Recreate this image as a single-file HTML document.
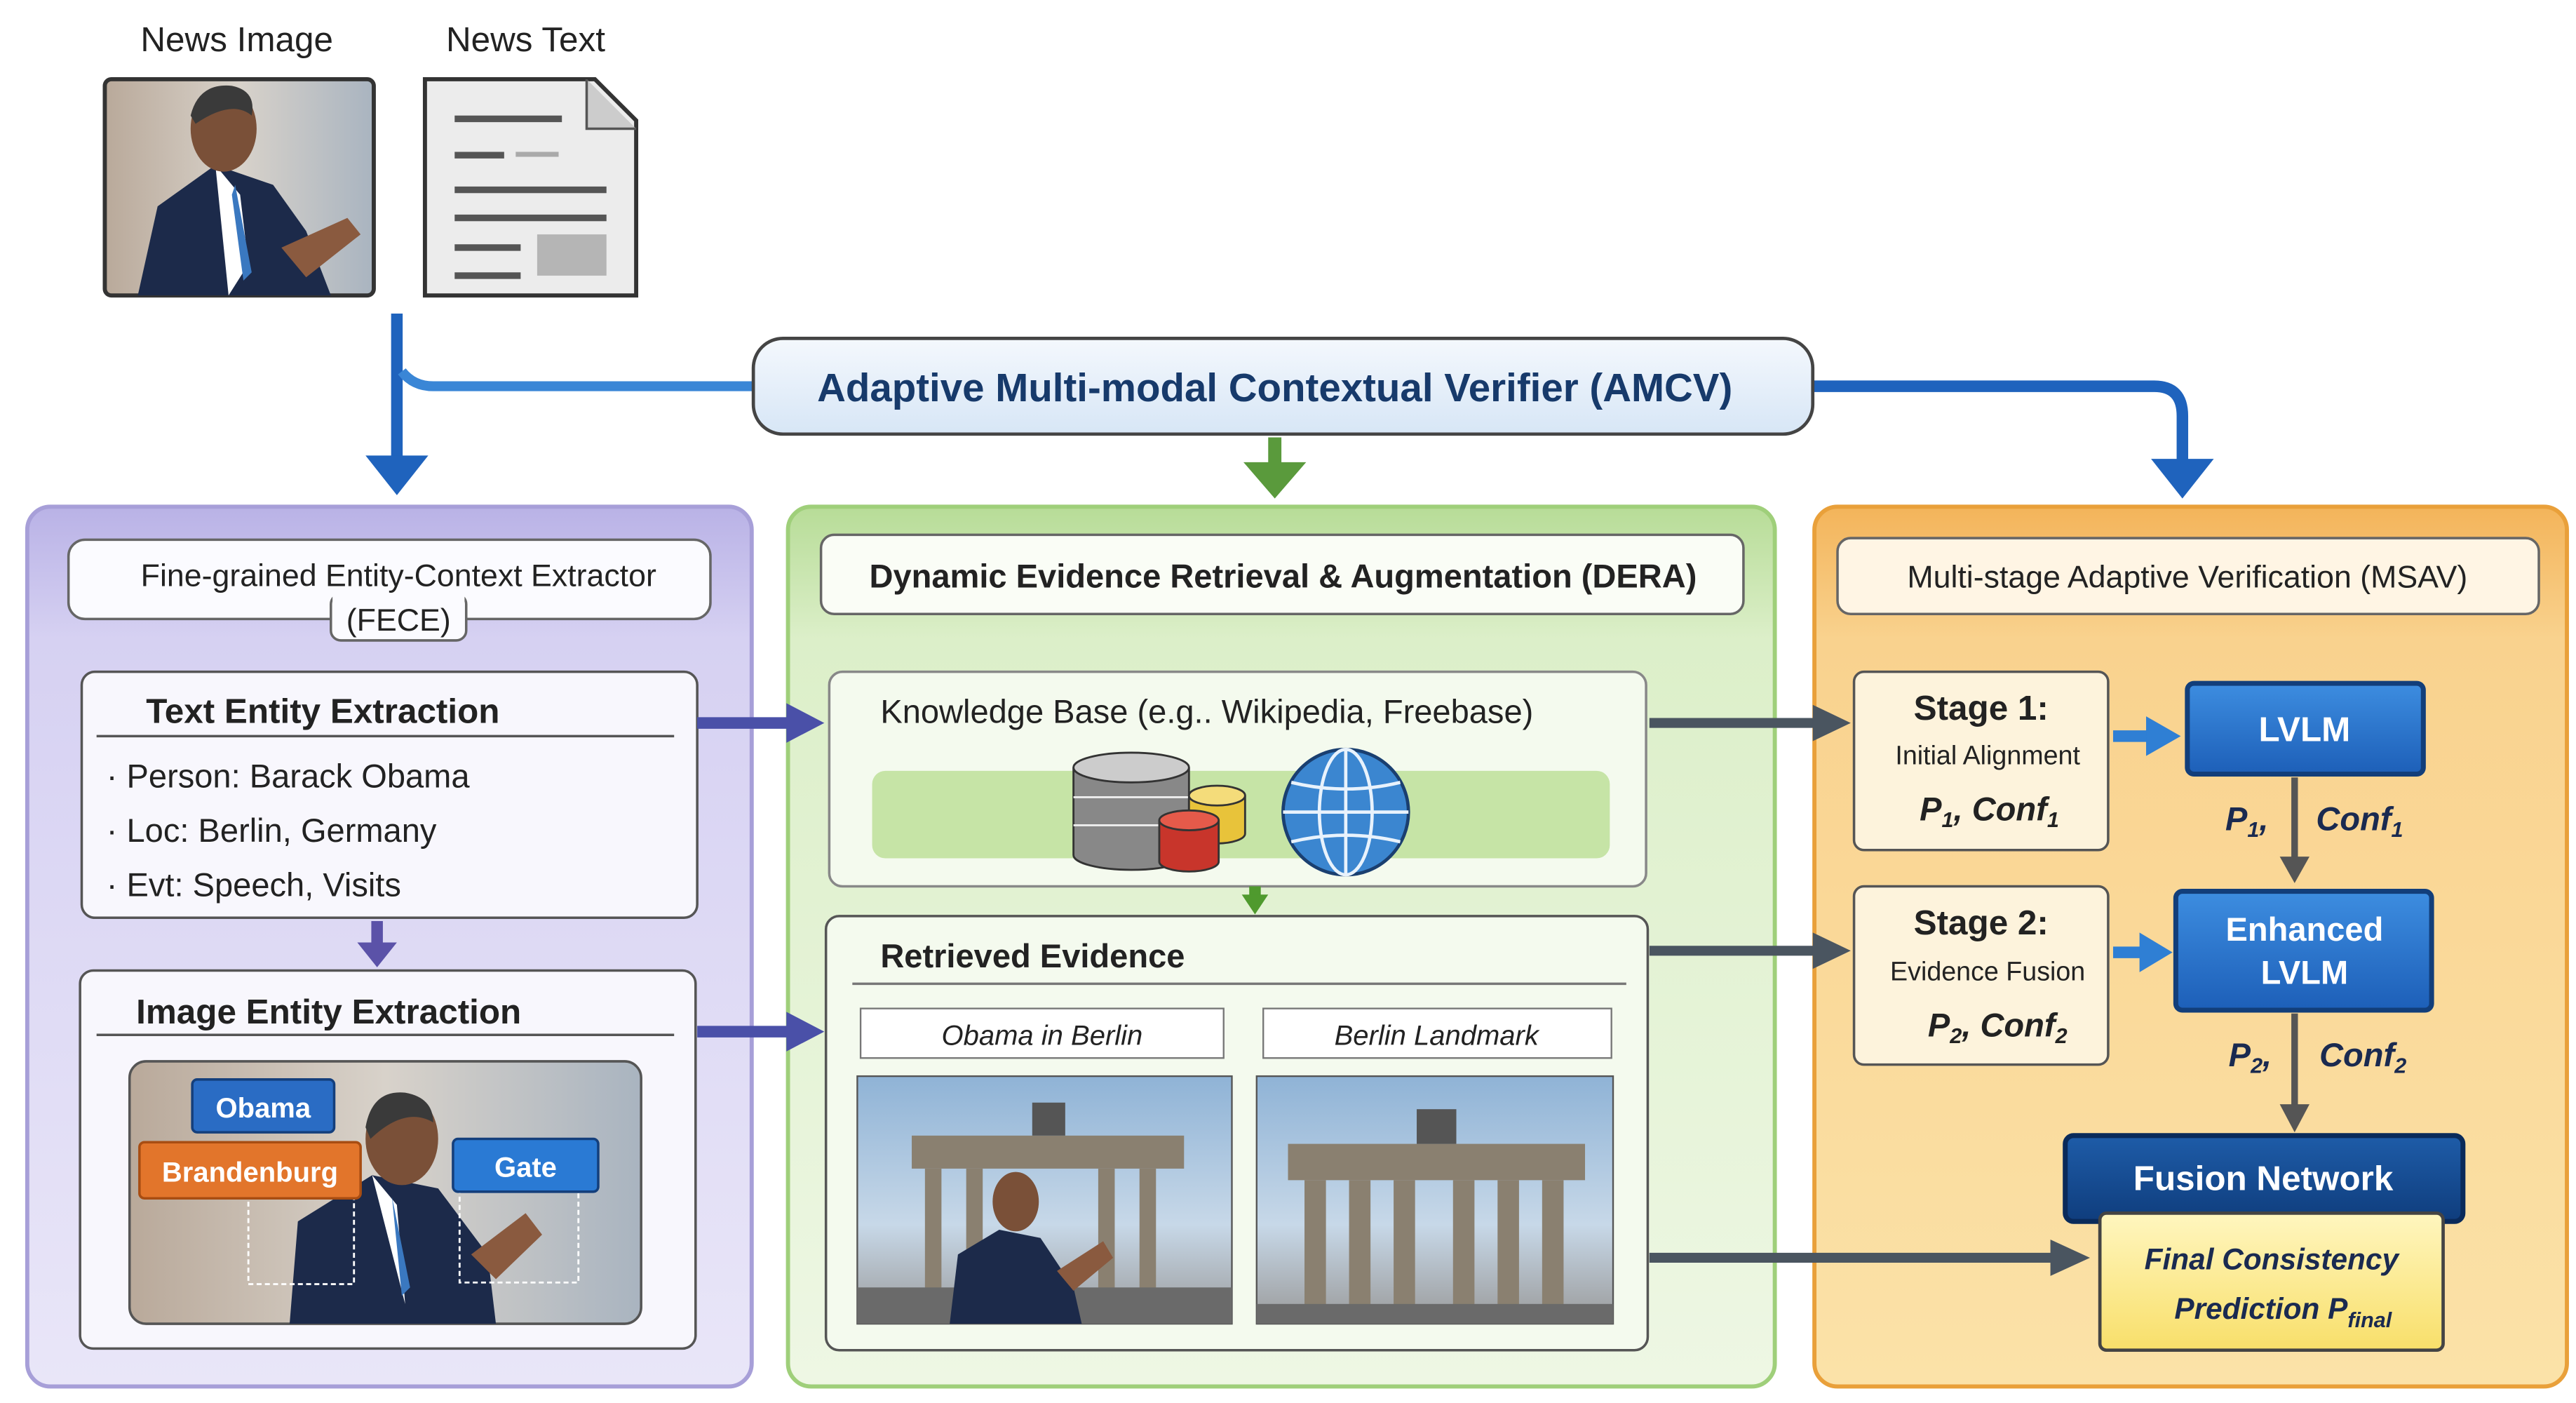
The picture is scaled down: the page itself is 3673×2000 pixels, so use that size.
<!DOCTYPE html>
<html><head><meta charset="utf-8"><style>
html,body{margin:0;padding:0;background:#fff;}
svg{display:block;}
text{font-family:"Liberation Sans","DejaVu Sans",sans-serif;}
</style></head><body>
<svg width="3673" height="2000" viewBox="0 0 1560 850" xmlns="http://www.w3.org/2000/svg">
<defs>
<linearGradient id="pur" x1="0" y1="0" x2="0" y2="1"><stop offset="0" stop-color="#b9b2e6"/><stop offset="0.15" stop-color="#d6d1f2"/><stop offset="1" stop-color="#e9e6f8"/></linearGradient>
<linearGradient id="grn" x1="0" y1="0" x2="0" y2="1"><stop offset="0" stop-color="#b7dc97"/><stop offset="0.15" stop-color="#dcefc9"/><stop offset="1" stop-color="#eef7e4"/></linearGradient>
<linearGradient id="org" x1="0" y1="0" x2="0" y2="1"><stop offset="0" stop-color="#f3b45a"/><stop offset="0.15" stop-color="#f9d28e"/><stop offset="1" stop-color="#fbe2a8"/></linearGradient>
<linearGradient id="amcv" x1="0" y1="0" x2="0" y2="1"><stop offset="0" stop-color="#f4f8fd"/><stop offset="1" stop-color="#d7e6f6"/></linearGradient>
<linearGradient id="blu" x1="0" y1="0" x2="0" y2="1"><stop offset="0" stop-color="#3d8de0"/><stop offset="1" stop-color="#1d5fb8"/></linearGradient>
<linearGradient id="dblu" x1="0" y1="0" x2="0" y2="1"><stop offset="0" stop-color="#1e5ca8"/><stop offset="1" stop-color="#0f3d7d"/></linearGradient>
<linearGradient id="yel" x1="0" y1="0" x2="0" y2="1"><stop offset="0" stop-color="#fff6bf"/><stop offset="1" stop-color="#f8df6a"/></linearGradient>
<linearGradient id="sky" x1="0" y1="0" x2="0" y2="1"><stop offset="0" stop-color="#8fb3d6"/><stop offset="0.6" stop-color="#c7d8e8"/><stop offset="1" stop-color="#9a9a9a"/></linearGradient>
<linearGradient id="crowd" x1="0" y1="0" x2="1" y2="0"><stop offset="0" stop-color="#b9a99a"/><stop offset="0.5" stop-color="#d8d2ca"/><stop offset="1" stop-color="#a9b4c0"/></linearGradient>
</defs>

<text x="143" y="31" font-size="21" text-anchor="middle" fill="#222">News Image</text>
<text x="318" y="31" font-size="21" text-anchor="middle" fill="#222">News Text</text>
<rect x="63" y="48" width="163" height="131" rx="4" fill="url(#crowd)" stroke="#333" stroke-width="2.5"/>
<path d="M83 179 L95 125 L130 100 L165 112 L185 140 L200 179 Z" fill="#1c2a4a"/>
<path d="M130 100 L145 118 L150 160 L138 179 Z" fill="#fff"/>
<path d="M142 112 L152 165 L147 170 L140 118 Z" fill="#3a78c0"/>
<ellipse cx="135" cy="78" rx="20" ry="26" fill="#7a5038"/>
<path d="M115 70 Q120 50 140 52 Q155 55 152 70 Q140 60 118 75Z" fill="#3a3a3a"/>
<path d="M170 150 L210 132 L218 142 L185 168 Z" fill="#8a5a3f"/>
<path d="M257 48 L360 48 L385 73 L385 179 L257 179 Z" fill="#ececec" stroke="#333" stroke-width="2.5"/>
<path d="M355 48 L355 78 L385 78" fill="#ccc" stroke="#555" stroke-width="1.5"/>
<g fill="#555"><rect x="275" y="70" width="65" height="4"/><rect x="275" y="92" width="30" height="4"/><rect x="312" y="92" width="26" height="3" fill="#aaa"/>
<rect x="275" y="113" width="92" height="4"/><rect x="275" y="130" width="92" height="4"/><rect x="275" y="148" width="40" height="4"/><rect x="275" y="165" width="40" height="4"/></g>
<rect x="325" y="142" width="42" height="25" fill="#b5b5b5"/>

<!-- AMCV connectors -->
<path d="M240 190 L240 280" stroke="#1f63bd" stroke-width="7" fill="none"/>
<path d="M221 276 L259 276 L240 300 Z" fill="#1f63bd"/>
<path d="M243 225 Q250 234 262 234 L458 234" stroke="#3a86d6" stroke-width="6" fill="none"/>
<path d="M1097 234 L1305 234 Q1322 234 1322 252 L1322 282" stroke="#1f63bd" stroke-width="7" fill="none"/>
<path d="M1303 278 L1341 278 L1322 302 Z" fill="#1f63bd"/>
<path d="M772 265 L772 285" stroke="#5a9a3c" stroke-width="8"/>
<path d="M753 280 L791 280 L772 302 Z" fill="#5a9a3c"/>

<rect x="456" y="205" width="642" height="58" rx="18" fill="url(#amcv)" stroke="#444" stroke-width="2"/>
<text x="772" y="243" font-size="24" font-weight="bold" text-anchor="middle" fill="#173a6b">Adaptive Multi-modal Contextual Verifier (AMCV)</text>

<!-- LEFT PANEL -->
<rect x="16" y="307" width="439" height="533" rx="14" fill="url(#pur)" stroke="#a79fd8" stroke-width="2.5"/>
<rect x="41" y="327" width="389" height="48" rx="10" fill="#fbfbff" stroke="#666" stroke-width="1.5"/>
<rect x="200" y="360" width="82" height="28" rx="6" fill="#fbfbff" stroke="#666" stroke-width="1.5"/>
<rect x="201" y="355" width="80" height="10" fill="#fbfbff"/>
<text x="241" y="355" font-size="19" text-anchor="middle" fill="#222">Fine-grained Entity-Context Extractor</text>
<text x="241" y="382" font-size="19" text-anchor="middle" fill="#222">(FECE)</text>

<rect x="49" y="407" width="373" height="149" rx="8" fill="#f8f7fd" stroke="#555" stroke-width="1.5"/>
<text x="88" y="438" font-size="21" font-weight="bold" fill="#222">Text Entity Extraction</text>
<line x1="58" y1="446" x2="408" y2="446" stroke="#555" stroke-width="1.5"/>
<text x="64" y="477" font-size="20" fill="#222">· Person: Barack Obama</text>
<text x="64" y="510" font-size="20" fill="#222">· Loc: Berlin, Germany</text>
<text x="64" y="543" font-size="20" fill="#222">· Evt: Speech, Visits</text>

<path d="M228 558 L228 574" stroke="#5b52a8" stroke-width="7"/>
<path d="M216 571 L240 571 L228 586 Z" fill="#5b52a8"/>

<rect x="48" y="588" width="373" height="229" rx="8" fill="#f8f7fd" stroke="#555" stroke-width="1.5"/>
<text x="82" y="620" font-size="21" font-weight="bold" fill="#222">Image Entity Extraction</text>
<line x1="58" y1="627" x2="408" y2="627" stroke="#555" stroke-width="1.5"/>
<rect x="78" y="643" width="310" height="159" rx="10" fill="url(#crowd)" stroke="#555" stroke-width="1.5"/>
<path d="M175 802 L180 740 L225 712 L265 720 L295 760 L300 802 Z" fill="#1c2a4a"/>
<path d="M225 712 L240 730 L245 790 Z" fill="#fff"/>
<path d="M237 725 L248 780 L243 785 Z" fill="#3a78c0"/>
<ellipse cx="243" cy="690" rx="22" ry="28" fill="#7a5038"/>
<path d="M221 683 Q225 660 245 662 Q262 665 262 680 Q245 670 224 690Z" fill="#3a3a3a"/>
<path d="M285 760 L318 735 L328 748 L300 775 Z" fill="#8a5a3f"/>
<rect x="150" y="718" width="64" height="60" fill="none" stroke="#fff" stroke-width="1.2" stroke-dasharray="3 2"/>
<rect x="278" y="715" width="72" height="62" fill="none" stroke="#fff" stroke-width="1.2" stroke-dasharray="3 2"/>
<rect x="116" y="654" width="86" height="32" rx="3" fill="#2a6cc4" stroke="#143f7c" stroke-width="1.5"/>
<text x="159" y="677" font-size="17" font-weight="bold" fill="#fff" text-anchor="middle">Obama</text>
<rect x="84" y="692" width="134" height="34" rx="3" fill="#e2752b" stroke="#a84d12" stroke-width="1.5"/>
<text x="151" y="716" font-size="17" font-weight="bold" fill="#fff" text-anchor="middle">Brandenburg</text>
<rect x="274" y="690" width="88" height="32" rx="3" fill="#2a7ad4" stroke="#143f7c" stroke-width="1.5"/>
<text x="318" y="713" font-size="17" font-weight="bold" fill="#fff" text-anchor="middle">Gate</text>

<!-- MIDDLE PANEL -->
<rect x="477" y="307" width="598" height="533" rx="14" fill="url(#grn)" stroke="#9fcf7a" stroke-width="2.5"/>
<rect x="497" y="324" width="559" height="48" rx="8" fill="#fafdf6" stroke="#666" stroke-width="1.5"/>
<text x="777" y="356" font-size="20" font-weight="bold" text-anchor="middle" fill="#222">Dynamic Evidence Retrieval &amp; Augmentation (DERA)</text>

<rect x="502" y="407" width="495" height="130" rx="8" fill="#f4faee" stroke="#888" stroke-width="1.5"/>
<text x="533" y="438" font-size="20" fill="#222">Knowledge Base (e.g.. Wikipedia, Freebase)</text>
<rect x="528" y="467" width="447" height="53" rx="8" fill="#c6e4a6"/>
<g stroke="#333" stroke-width="1.2">
<path d="M650 465 L650 518 A35 9 0 0 0 720 518 L720 465" fill="#888"/>
<ellipse cx="685" cy="465" rx="35" ry="9" fill="#ccc"/>
<line x1="650" y1="483" x2="720" y2="483" stroke="#eee"/>
<line x1="650" y1="500" x2="720" y2="500" stroke="#eee"/>
<path d="M720 482 L720 505 A17 6 0 0 0 754 505 L754 482" fill="#e8c33a"/>
<ellipse cx="737" cy="482" rx="17" ry="6" fill="#f4dc7a"/>
<path d="M702 497 L702 522 A18 6 0 0 0 738 522 L738 497" fill="#c8352b"/>
<ellipse cx="720" cy="497" rx="18" ry="6" fill="#e55a4a"/>
</g>
<circle cx="815" cy="492" r="38" fill="#3b86d0" stroke="#1a3f70" stroke-width="2"/>
<g fill="none" stroke="#e8f2fc" stroke-width="2"><ellipse cx="815" cy="492" rx="16" ry="38"/><line x1="777" y1="492" x2="853" y2="492"/><path d="M782 474 Q815 482 848 474"/><path d="M782 510 Q815 502 848 510"/><line x1="815" y1="454" x2="815" y2="530"/></g>

<path d="M760 537 L760 546" stroke="#4f9a2e" stroke-width="7"/>
<path d="M752 542 L768 542 L760 554 Z" fill="#4f9a2e"/>

<rect x="500" y="555" width="498" height="263" rx="8" fill="#f4faee" stroke="#555" stroke-width="1.5"/>
<text x="533" y="586" font-size="20" font-weight="bold" fill="#222">Retrieved Evidence</text>
<line x1="516" y1="596" x2="985" y2="596" stroke="#777" stroke-width="1.5"/>
<rect x="521" y="611" width="220" height="30" fill="#fff" stroke="#777"/>
<text x="631" y="633" font-size="17" font-style="italic" text-anchor="middle" fill="#222">Obama in Berlin</text>
<rect x="765" y="611" width="211" height="30" fill="#fff" stroke="#777"/>
<text x="870" y="633" font-size="17" font-style="italic" text-anchor="middle" fill="#222">Berlin Landmark</text>
<rect x="519" y="652" width="227" height="150" fill="url(#sky)" stroke="#555"/>
<g fill="#8a8070"><rect x="552" y="688" width="165" height="20"/><rect x="560" y="708" width="10" height="85"/><rect x="585" y="708" width="10" height="85"/><rect x="665" y="708" width="10" height="85"/><rect x="690" y="708" width="10" height="85"/><rect x="625" y="668" width="20" height="20" fill="#555"/></g>
<rect x="519" y="780" width="227" height="22" fill="#6a6a6a"/>
<path d="M575 802 L580 760 L605 745 L630 750 L650 780 L655 802Z" fill="#1c2a4a"/>
<ellipse cx="615" cy="728" rx="14" ry="18" fill="#7a5038"/>
<path d="M640 770 L668 752 L674 762 L650 782Z" fill="#8a5a3f"/>
<rect x="761" y="652" width="216" height="150" fill="url(#sky)" stroke="#555"/>
<g fill="#8a8070"><rect x="780" y="693" width="180" height="22"/><rect x="790" y="715" width="13" height="80"/><rect x="817" y="715" width="13" height="80"/><rect x="844" y="715" width="13" height="80"/><rect x="880" y="715" width="13" height="80"/><rect x="907" y="715" width="13" height="80"/><rect x="934" y="715" width="13" height="80"/><rect x="858" y="672" width="24" height="21" fill="#555"/></g>
<rect x="761" y="790" width="216" height="12" fill="#6a6a6a"/>

<!-- RIGHT PANEL -->
<rect x="1099" y="307" width="456" height="533" rx="14" fill="url(#org)" stroke="#e9a03a" stroke-width="2.5"/>
<rect x="1113" y="326" width="425" height="46" rx="8" fill="#fff5e4" stroke="#666" stroke-width="1.5"/>
<text x="1325" y="356" font-size="19" text-anchor="middle" fill="#222">Multi-stage Adaptive Verification (MSAV)</text>

<rect x="1123" y="407" width="154" height="108" rx="6" fill="#fdf3dc" stroke="#555" stroke-width="1.5"/>
<text x="1200" y="436" font-size="21" font-weight="bold" text-anchor="middle" fill="#222">Stage 1:</text>
<text x="1204" y="463" font-size="16" text-anchor="middle" fill="#222">Initial Alignment</text>
<text x="1205" y="497" font-size="20" font-weight="bold" font-style="italic" text-anchor="middle" fill="#222">P<tspan font-size="13" dy="4">1</tspan><tspan dy="-4">, Conf</tspan><tspan font-size="13" dy="4">1</tspan></text>

<path d="M1280 446 L1304 446" stroke="#2f7fd4" stroke-width="7"/><path d="M1300 434 L1321 446 L1300 458Z" fill="#2f7fd4"/>
<rect x="1325" y="414" width="143" height="55" rx="4" fill="url(#blu)" stroke="#123e7a" stroke-width="3"/>
<text x="1396" y="449" font-size="21" font-weight="bold" text-anchor="middle" fill="#fff">LVLM</text>
<text x="1348" y="503" font-size="20" font-weight="bold" font-style="italic" fill="#1a2a50">P<tspan font-size="13" dy="4">1</tspan><tspan dy="-4">,</tspan></text>
<text x="1403" y="503" font-size="20" font-weight="bold" font-style="italic" fill="#1a2a50">Conf<tspan font-size="13" dy="4">1</tspan></text>
<path d="M1390 471 L1390 522" stroke="#555" stroke-width="4"/><path d="M1381 519 L1399 519 L1390 535Z" fill="#555"/>

<rect x="1123" y="537" width="154" height="108" rx="6" fill="#fdf3dc" stroke="#555" stroke-width="1.5"/>
<text x="1200" y="566" font-size="21" font-weight="bold" text-anchor="middle" fill="#222">Stage 2:</text>
<text x="1204" y="594" font-size="16" text-anchor="middle" fill="#222">Evidence Fusion</text>
<text x="1210" y="628" font-size="20" font-weight="bold" font-style="italic" text-anchor="middle" fill="#222">P<tspan font-size="13" dy="4">2</tspan><tspan dy="-4">, Conf</tspan><tspan font-size="13" dy="4">2</tspan></text>
<path d="M1280 577 L1300 577" stroke="#2f7fd4" stroke-width="7"/><path d="M1296 565 L1316 577 L1296 589Z" fill="#2f7fd4"/>
<rect x="1318" y="540" width="155" height="72" rx="4" fill="url(#blu)" stroke="#123e7a" stroke-width="3"/>
<text x="1396" y="570" font-size="20" font-weight="bold" text-anchor="middle" fill="#fff">Enhanced</text>
<text x="1396" y="596" font-size="20" font-weight="bold" text-anchor="middle" fill="#fff">LVLM</text>
<text x="1350" y="646" font-size="20" font-weight="bold" font-style="italic" fill="#1a2a50">P<tspan font-size="13" dy="4">2</tspan><tspan dy="-4">,</tspan></text>
<text x="1405" y="646" font-size="20" font-weight="bold" font-style="italic" fill="#1a2a50">Conf<tspan font-size="13" dy="4">2</tspan></text>
<path d="M1390 614 L1390 672" stroke="#555" stroke-width="4"/><path d="M1381 669 L1399 669 L1390 686Z" fill="#555"/>

<rect x="1251" y="688" width="241" height="52" rx="5" fill="url(#dblu)" stroke="#0a2a5a" stroke-width="3"/>
<text x="1371" y="721" font-size="21" font-weight="bold" text-anchor="middle" fill="#fff">Fusion Network</text>
<rect x="1272" y="735" width="208" height="83" rx="4" fill="url(#yel)" stroke="#444" stroke-width="2"/>
<text x="1376" y="769" font-size="18" font-weight="bold" font-style="italic" text-anchor="middle" fill="#1a2a50">Final Consistency</text>
<text x="1383" y="799" font-size="18" font-weight="bold" font-style="italic" text-anchor="middle" fill="#1a2a50">Prediction  P<tspan font-size="13" dy="5">final</tspan></text>

<!-- cross-panel arrows (on top) -->
<path d="M422 438 L480 438" stroke="#4a50a8" stroke-width="7"/>
<path d="M476 426 L499 438 L476 450 Z" fill="#4a50a8"/>
<path d="M422 625 L480 625" stroke="#4a50a8" stroke-width="7"/>
<path d="M476 613 L499 625 L476 637 Z" fill="#4a50a8"/>
<g fill="#4a5560">
<path d="M999 438 L1102 438" stroke="#4a5560" stroke-width="6"/><path d="M1098 427 L1121 438 L1098 449Z"/>
<path d="M999 576 L1102 576" stroke="#4a5560" stroke-width="6"/><path d="M1098 565 L1121 576 L1098 587Z"/>
<path d="M999 762 L1246 762" stroke="#4a5560" stroke-width="6"/><path d="M1242 751 L1266 762 L1242 773Z"/>
</g>
</svg>
</body></html>
